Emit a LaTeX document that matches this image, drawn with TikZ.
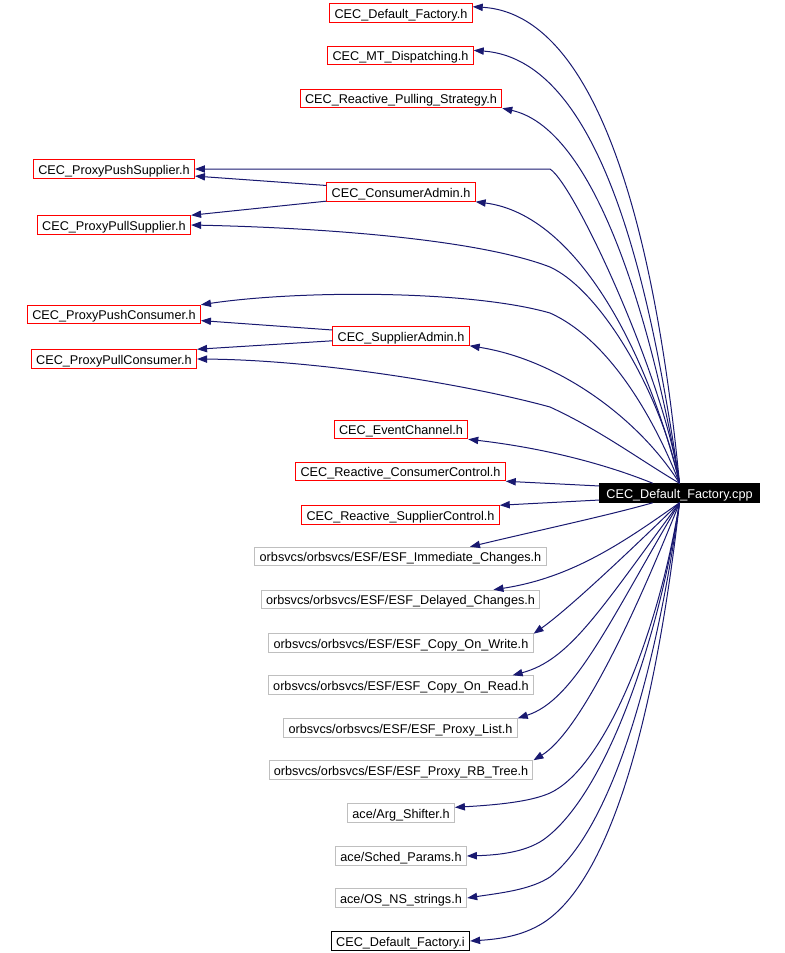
\documentclass[tikz,border=0pt]{standalone}
\usepackage{fontspec}
\setmainfont{Liberation Sans}
\usetikzlibrary{arrows.meta}
\definecolor{edgeblue}{HTML}{191970}
\definecolor{hdrred}{HTML}{FF0000}
\definecolor{hdrgray}{HTML}{BFBFBF}

\tikzset{
  file/.style={draw, line width=0.75pt, inner xsep=3.6pt, inner ysep=0pt,
    minimum height=13.9pt, text height=8.5pt, text depth=1pt,
    font=\fontsize{9.5}{11}\selectfont},
  redfile/.style={file, draw=hdrred},
  grayfile/.style={file, draw=hdrgray},
  blackfile/.style={file, draw=black},
  mainfile/.style={file, fill=black, draw=black, text=white, inner xsep=5pt},
  dep/.style={edgeblue, line width=0.75pt, ->, >={Triangle[length=7.5pt,width=5.5pt]}},
}

\begin{document}
\begin{tikzpicture}[x=0.75pt, y=-0.75pt]
\useasboundingbox (0,0) rectangle (785,953);

% Main file
\node[mainfile] (main) at (679.5,493) {CEC\_Default\_Factory.cpp};

% Headers, upper part
\node[redfile] (defH) at (401,13) {CEC\_Default\_Factory.h};
\node[redfile] (mtDisp) at (400.5,55.5) {CEC\_MT\_Dispatching.h};
\node[redfile] (pullStrat) at (401,98.5) {CEC\_Reactive\_Pulling\_Strategy.h};
\node[redfile] (pushSup) at (114,169) {CEC\_ProxyPushSupplier.h};
\node[redfile] (consAdmin) at (401,192) {CEC\_ConsumerAdmin.h};
\node[redfile] (pullSup) at (114,225) {CEC\_ProxyPullSupplier.h};
\node[redfile] (pushCons) at (114,314.5) {CEC\_ProxyPushConsumer.h};
\node[redfile] (supAdmin) at (401,336) {CEC\_SupplierAdmin.h};
\node[redfile] (pullCons) at (114,359) {CEC\_ProxyPullConsumer.h};
\node[redfile] (evChan) at (401,429.5) {CEC\_EventChannel.h};
\node[redfile] (consCtrl) at (400.5,471.5) {CEC\_Reactive\_ConsumerControl.h};
\node[redfile] (supCtrl) at (400.5,515) {CEC\_Reactive\_SupplierControl.h};

% Headers, lower part
\node[grayfile] (esfImm) at (400.5,556.5) {orbsvcs/orbsvcs/ESF/ESF\_Immediate\_Changes.h};
\node[grayfile] (esfDel) at (400.5,599.5) {orbsvcs/orbsvcs/ESF/ESF\_Delayed\_Changes.h};
\node[grayfile] (esfCow) at (401,643) {orbsvcs/orbsvcs/ESF/ESF\_Copy\_On\_Write.h};
\node[grayfile] (esfCor) at (401,685) {orbsvcs/orbsvcs/ESF/ESF\_Copy\_On\_Read.h};
\node[grayfile] (esfList) at (400.5,728) {orbsvcs/orbsvcs/ESF/ESF\_Proxy\_List.h};
\node[grayfile] (esfTree) at (401,770) {orbsvcs/orbsvcs/ESF/ESF\_Proxy\_RB\_Tree.h};
\node[grayfile] (argShift) at (401,813) {ace/Arg\_Shifter.h};
\node[grayfile] (schedP) at (401,856) {ace/Sched\_Params.h};
\node[grayfile] (osStr) at (401,898) {ace/OS\_NS\_strings.h};
\node[blackfile] (defI) at (400.5,941) {CEC\_Default\_Factory.i};

% Edges going up
\draw[dep] (main.north) .. controls (662,300) and (615,15) .. (defH.5);
\draw[dep] (main.north) .. controls (655,320) and (610,60) .. (mtDisp.4);
\draw[dep] (main.north) .. controls (655,340) and (600,130) .. (pullStrat.south east);
\draw[dep] (main.north) .. controls (665,380) and (575,185) .. (550,169) -- (pushSup.east);
\draw[dep] (main.north) .. controls (650,360) and (580,215) .. (consAdmin.south east);
\draw[dep] (main.north) .. controls (660,390) and (600,290) .. (550,267)
  .. controls (480,240) and (330,228) .. (pullSup.east);
\draw[dep] (main.north) .. controls (655,420) and (610,340) .. (550,313)
  .. controls (470,290) and (300,290) .. (pushCons.north east);
\draw[dep] (main.north) .. controls (640,420) and (560,360) .. (supAdmin.south east);
\draw[dep] (main.north) .. controls (640,460) and (600,430) .. (550,407)
  .. controls (470,385) and (320,360) .. (pullCons.east);
\draw[dep] (main.160) .. controls (620,470) and (560,450) .. (evChan.south east);

% Admins to proxies
\draw[dep] (consAdmin.175) -- (pushSup.355);
\draw[dep] (consAdmin.187) -- (pullSup.north east);
\draw[dep] (supAdmin.175) -- (pushCons.356);
\draw[dep] (supAdmin.184) -- (pullCons.north east);

% Edges to the left
\draw[dep] (main.175) -- (consCtrl.south east);
\draw[dep] (main.185) -- (supCtrl.north east);

% Edges going down
\draw[dep] (main.200) .. controls (610,515) and (540,530) .. (esfImm.8);
\draw[dep] (main.south) .. controls (620,545) and (570,578) .. (esfDel.6);
\draw[dep] (main.south) .. controls (600,580) and (560,615) .. (esfCow.4);
\draw[dep] (main.south) .. controls (600,610) and (570,660) .. (esfCor.5);
\draw[dep] (main.south) .. controls (610,620) and (575,700) .. (esfList.north east);
\draw[dep] (main.south) .. controls (625,640) and (575,735) .. (esfTree.north east);
\draw[dep] (main.south) .. controls (655,650) and (600,770) .. (550,793)
  .. controls (530,802) and (495,805) .. (argShift.6);
\draw[dep] (main.south) .. controls (655,660) and (600,800) .. (543,840)
  .. controls (525,852) and (500,855) .. (schedP.east);
\draw[dep] (main.south) .. controls (655,680) and (610,830) .. (550,877)
  .. controls (530,890) and (500,893) .. (osStr.east);
\draw[dep] (main.south) .. controls (655,720) and (610,880) .. (543,923)
  .. controls (522,936) and (500,939) .. (defI.east);
\end{tikzpicture}
\end{document}
